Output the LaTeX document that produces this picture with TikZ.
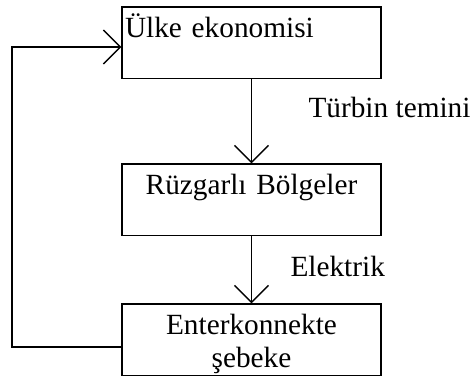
\documentclass[tikz,border=0pt]{standalone}
\usepackage{fontspec}
\setmainfont{Liberation Serif}
\usetikzlibrary{arrows.meta,positioning}

\begin{document}
\begin{tikzpicture}[x=1pt,y=-1pt,node distance=2cm,on grid,line width=1.4pt,
   >={Straight Barb[length=17pt,width=34pt,line width=1.4pt]},
   kutu/.style={draw,text width=253pt,inner xsep=3pt,inner ysep=0pt,
                text height=30.5pt,text depth=41pt},
   yazi/.style={font=\fontsize{29.3}{33}\selectfont}]
   \useasboundingbox (0,0) rectangle (471,377);
   \node[kutu,yazi,align=left] (ulke) at (251.5,42.75) {Ülke ekonomisi};
   \node[kutu,yazi,align=center] (ruzgar) [below=157pt of ulke] {Rüzgarlı Bölgeler};
   \node[kutu,yazi,align=center] (sebeke) [below=140pt of ruzgar] {Enterkonnekte\\şebeke};
   \coordinate (geri) at (12,0);
    \path[->]
    (ulke) edge node[yazi,anchor=base west,xshift=53pt,pos=0.453] (turbin) {Türbin temini} (ruzgar)
    (ruzgar) edge node[yazi,anchor=base west,xshift=35pt,pos=0.6] (elektrik) {Elektrik} (sebeke);
    \draw[->] ([yshift=-7.25pt]sebeke.west) -- ([yshift=-7.25pt]sebeke.west -| geri)
          |- ([yshift=-4.25pt]ulke.west);
\end{tikzpicture}
\end{document}
